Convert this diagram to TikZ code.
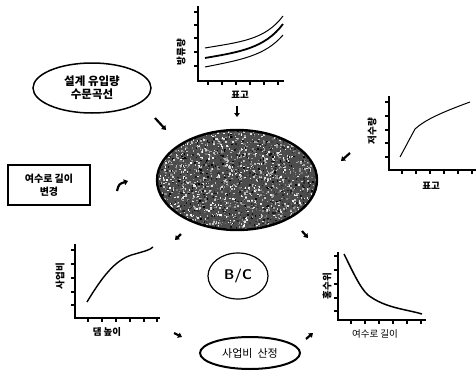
\documentclass[tikz,border=0pt]{standalone}
\usepackage{fontspec}
\newfontfamily\kr{Noto Sans CJK KR}
\usetikzlibrary{arrows.meta,shapes.geometric}
\begin{document}
\begin{tikzpicture}[x=1pt,y=-1pt,
  axis/.style={line width=1.4pt},
  tick/.style={line width=1.1pt},
  curve/.style={line width=1pt},
  lab/.style={font=\kr\bfseries\fontsize{9.5}{10}\selectfont, inner sep=1pt},
  ovalbox/.style={ellipse, draw, line width=1.5pt, align=center, font=\kr\bfseries\fontsize{11.5}{13}\selectfont, inner sep=0pt},
  mark arrow/.style={line width=2.2pt, -{Triangle[length=4pt,width=5.5pt]}}
]
\useasboundingbox (0,0) rectangle (476,380);

% ---------- top chart ----------
\draw[axis] (198,6) -- (198,81) -- (284,81);
\foreach \y in {12,25,38,52,66} \draw[tick] (194,\y) -- (198,\y);
\foreach \x in {208,222,236,250,264,278} \draw[tick] (\x,81) -- (\x,85);
\draw[curve] (205,48) .. controls (240,42) and (265,40) .. (283,16);
\draw[line width=1.8pt] (205,58) .. controls (240,52) and (265,48) .. (283,24);
\draw[curve] (205,67) .. controls (240,60) and (265,56) .. (283,35);
\node[lab, rotate=90] (ytop) at (181,52) {방류량};
\node[lab] (xtop) at (240,95) {표고};
\coordinate (a1s) at (237,106); \coordinate (a1e) at (237,117);
\draw[mark arrow] (a1s) -- (a1e);

% ---------- design inflow ellipse ----------
\node[ovalbox, minimum width=118pt, minimum height=50pt] (inflow) at (92,88) {설계 유입량\\수문곡선};
\coordinate (a2s) at (155,118); \coordinate (a2e) at (166,130);
\draw[mark arrow] (a2s) -- (a2e);

% ---------- central ellipse ----------
\node[ellipse, minimum width=160pt, minimum height=100pt, inner sep=0pt] (core) at (237,180) {};
\begin{scope}
  \clip (237,180) ellipse (80 and 50);
  \fill[black!70] (157,130) rectangle (317,230);
  \pgfmathsetseed{7}
  \foreach \i in {1,...,2600} {
    \pgfmathsetmacro{\px}{157+160*rnd}
    \pgfmathsetmacro{\py}{130+100*rnd}
    \pgfmathsetmacro{\pg}{100*rnd}
    \fill[white!\pg!black] (\px,\py) rectangle ++(1.5,1.5);
  }
\end{scope}
\draw[line width=2.4pt] (237,180) ellipse (80 and 50);

% ---------- right chart ----------
\draw[axis] (389,96) -- (389,170) -- (476,170);
\foreach \y in {102,116,130,143,157} \draw[tick] (385,\y) -- (389,\y);
\foreach \x in {402,416,430,444,458,472} \draw[tick] (\x,170) -- (\x,174);
\draw[curve] (400,157) -- (415,129) .. controls (425,120) and (440,113) .. (470,102);
\node[lab, rotate=90] (yright) at (372,131) {저수량};
\node[lab] (xright) at (431,186) {표고};
\coordinate (a3s) at (350,153); \coordinate (a3e) at (341,161);
\draw[mark arrow] (a3s) -- (a3e);

% ---------- spillway change box ----------
\node[draw, line width=1.2pt, minimum width=82pt, minimum height=40pt, align=center,
      font=\kr\bfseries\fontsize{10}{13}\selectfont] (change) at (49,185) {여수로 길이\\변경};
\coordinate (a4s) at (117,191); \coordinate (a4e) at (128,181);
\draw[line width=2.2pt, -{Triangle[length=4pt,width=6pt]}] (a4s) .. controls (119,184) .. (a4e);

% ---------- bottom-left chart ----------
\draw[axis] (75,244) -- (75,318) -- (160,318);
\foreach \y in {250,264,278,292,305} \draw[tick] (71,\y) -- (75,\y);
\foreach \x in {88,102,116,130,144,157} \draw[tick] (\x,318) -- (\x,322);
\draw[line width=1.4pt] (87,302) .. controls (105,272) and (118,258) .. (135,254) .. controls (145,251) and (150,250) .. (153,247);
\node[lab, rotate=90] (ybl) at (60,276) {사업비};
\node[lab] (xbl) at (107,332) {댐 높이};
\coordinate (a5s) at (181,234); \coordinate (a5e) at (175,240);
\draw[mark arrow] (a5s) -- (a5e);
\coordinate (a6s) at (174,333); \coordinate (a6e) at (182,337);
\draw[mark arrow] (a6s) -- (a6e);

% ---------- B/C ----------
\node[ellipse, draw, line width=1.2pt, minimum width=60pt, minimum height=46pt, inner sep=0pt,
      font=\sffamily\bfseries\fontsize{14}{16}\selectfont] (bc) at (238,276) {B/C};

% ---------- project cost ellipse ----------
\node[ellipse, draw, line width=2pt, minimum width=100pt, minimum height=32pt, inner sep=0pt,
      font=\kr\fontsize{11}{13}\selectfont] (cost) at (250,353) {사업비\ \ 산정};

% ---------- bottom-right chart ----------
\draw[axis] (338,252) -- (338,320) -- (426,320);
\foreach \y in {256,270,284,298,311} \draw[tick] (334,\y) -- (338,\y);
\foreach \x in {351,365,379,393,407,421} \draw[tick] (\x,320) -- (\x,324);
\draw[line width=1.5pt] (344,254) .. controls (352,270) and (360,288) .. (368,295) .. controls (385,308) and (405,309) .. (422,314);
\node[lab, rotate=90] (ybr) at (327,286) {홍수위};
\node[font=\kr\fontsize{9.5}{10}\selectfont, inner sep=1pt] (xbr) at (375,334) {여수로 길이};
\coordinate (a7s) at (302,231); \coordinate (a7e) at (308,238);
\draw[mark arrow] (a7s) -- (a7e);
\coordinate (a8s) at (306,339); \coordinate (a8e) at (313,333);
\draw[mark arrow] (a8s) -- (a8e);
\end{tikzpicture}
\end{document}
